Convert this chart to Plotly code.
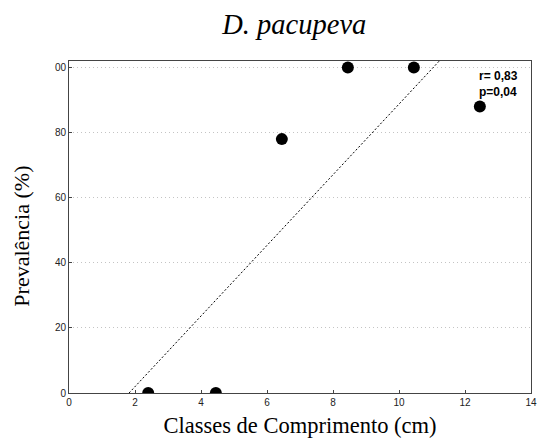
import numpy as np
import plotly.graph_objects as go

# Data
length_classes = [2.4, 4.45, 6.45, 8.45, 10.45, 12.45]
prevalence = [0, 0, 78, 100, 100, 88]
y_tick_vals = [0, 20, 40, 60, 80, 100]
y_tick_text = ["0", "20", "40", "60", "80", "00"]
x_tick_vals = [0, 2, 4, 6, 8, 10, 12, 14]
stats_text = "r= 0,83<br>p=0,04"
title_text = "D. pacupeva"
x_title = "Classes de Comprimento (cm)"
y_title = "Prevalência (%)"

slope, intercept = np.polyfit(length_classes, prevalence, 1)
fit_x = [0, 14]
fit_y = [intercept + slope * v for v in fit_x]

fig = go.Figure()
fig.add_trace(go.Scatter(
    x=fit_x, y=fit_y, mode="lines",
    line=dict(color="black", width=1, dash="2px,2px"),
    hoverinfo="skip", showlegend=False,
))
fig.add_trace(go.Scatter(
    x=length_classes, y=prevalence, mode="markers",
    marker=dict(color="black", size=12),
    cliponaxis=True, showlegend=False,
))

fig.add_annotation(
    x=12.35, y=94.8, xref="x", yref="y", text=stats_text,
    showarrow=False, xanchor="left", yanchor="middle", align="left",
    font=dict(family="Liberation Sans", size=12, color="black", weight="bold"),
)
fig.add_annotation(
    x=(22 - 69) / 462, y=0.471, xref="paper", yref="paper", text=y_title,
    textangle=-90, showarrow=False, xanchor="center", yanchor="middle",
    font=dict(family="Liberation Serif", size=22, color="black"),
)

axis_common = dict(
    showline=True, linecolor="#444444", linewidth=1, mirror=True,
    ticks="inside", ticklen=3, tickcolor="#444444",
    tickfont=dict(family="Liberation Sans", size=10, color="#222222"),
    zeroline=False, automargin=False,
)

fig.update_layout(
    width=538, height=447,
    margin=dict(l=69, r=7, t=61, b=54),
    paper_bgcolor="white", plot_bgcolor="white",
    title=dict(
        text="<i>" + title_text + "</i>",
        font=dict(family="Liberation Serif", size=28.5, color="black"),
        xref="container", x=0.547, xanchor="center",
        yref="container", y=1 - 24 / 447, yanchor="middle",
    ),
    xaxis=dict(
        range=[0, 14], tickvals=x_tick_vals, showgrid=False,
        title=dict(text=x_title, standoff=10,
                   font=dict(family="Liberation Serif", size=22.5, color="black")),
        **axis_common,
    ),
    yaxis=dict(
        range=[0, 102], tickvals=y_tick_vals, ticktext=y_tick_text,
        showgrid=True, gridcolor="#c4c4c4", gridwidth=1, griddash="1px,3px",
        **axis_common,
    ),
)

fig.write_html("out.html")
